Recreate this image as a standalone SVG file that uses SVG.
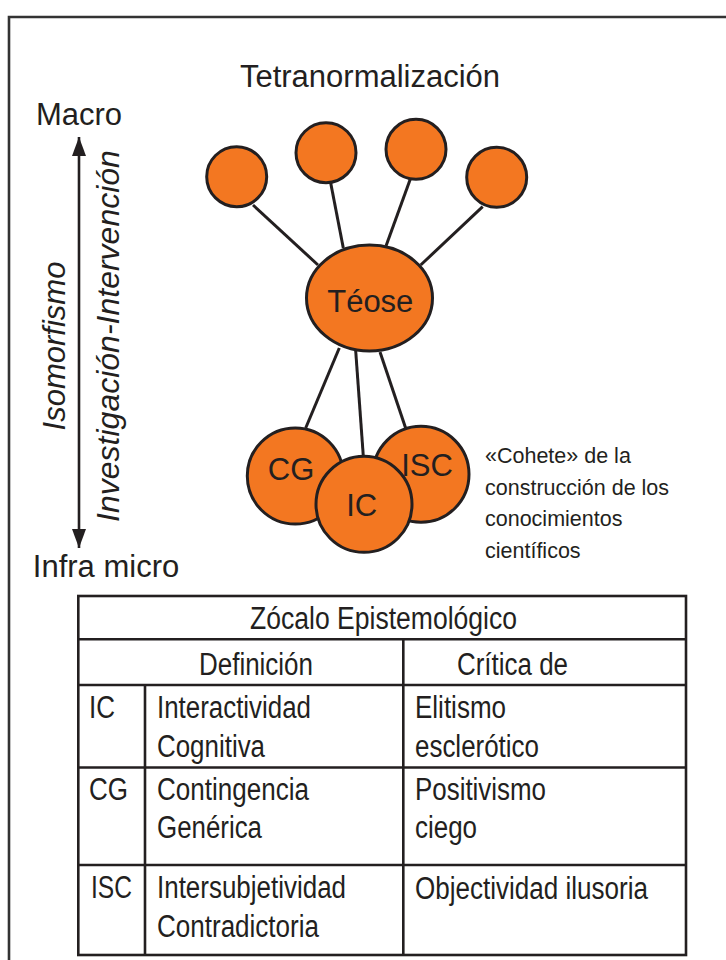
<svg xmlns="http://www.w3.org/2000/svg" width="726" height="960" viewBox="0 0 726 960">
<style>
.t{font-family:"Liberation Sans",Arial,sans-serif;fill:#231f20}
.big{font-size:31px}
.it{font-style:italic}
.cap{font-size:21.5px}
.tb{font-size:31px}
.node{fill:#f37721;stroke:#231f20;stroke-width:3}
.conn line{stroke:#231f20;stroke-width:3;stroke-linecap:butt}
.grid{stroke:#231f20;stroke-width:2.6;fill:none}
</style>
<defs>
<marker id="ah" viewBox="0 0 19 14" refX="19" refY="7" markerWidth="19" markerHeight="14" markerUnits="userSpaceOnUse" orient="auto-start-reverse">
<path d="M0,0 L19,7 L0,14 z" fill="#231f20"/>
</marker>
</defs>
<rect width="726" height="960" fill="#fff"/>
<path d="M9,960 V17 H726" fill="none" stroke="#333" stroke-width="2.6"/>

<text class="t big" x="370" y="87" text-anchor="middle">Tetranormalización</text>
<text class="t big" x="79" y="125" text-anchor="middle">Macro</text>
<text class="t big" x="106" y="577" text-anchor="middle">Infra micro</text>
<line x1="79" y1="548" x2="79" y2="137" stroke="#231f20" stroke-width="2.6" marker-start="url(#ah)" marker-end="url(#ah)"/>
<text class="t big it" transform="translate(65,346) rotate(-90)" text-anchor="middle" font-size="31.5">Isomorfismo</text>
<text class="t big it" transform="translate(118.5,336) rotate(-90)" text-anchor="middle" style="font-size:32px">Investigación-Intervención</text>

<g id="connectors" class="conn">
<line x1="253" y1="205" x2="318" y2="265"/>
<line x1="330.7" y1="183" x2="343.3" y2="248"/>
<line x1="410.7" y1="178" x2="386" y2="246"/>
<line x1="482.7" y1="206.7" x2="420.7" y2="265"/>
<line x1="339.3" y1="348" x2="305.7" y2="428"/>
<line x1="355.7" y1="351" x2="363.3" y2="456"/>
<line x1="380" y1="352" x2="405.7" y2="428.3"/>
</g>

<g id="n1"><circle class="node" cx="236.7" cy="176.7" r="30"/></g>
<g id="n2"><circle class="node" cx="326" cy="152.7" r="30"/></g>
<g id="n3"><circle class="node" cx="416" cy="149.3" r="30"/></g>
<g id="n4"><circle class="node" cx="496.7" cy="177.3" r="30"/></g>
<g id="teose"><ellipse class="node" cx="369.5" cy="298" rx="63" ry="53"/><text class="t big" x="370.3" y="311.7" text-anchor="middle">Téose</text></g>
<g id="cg"><circle class="node" cx="295.3" cy="476" r="48"/><text class="t big" x="291" y="480" text-anchor="middle">CG</text></g>
<g id="isc"><circle class="node" cx="421" cy="474.3" r="48"/><text class="t big" x="427" y="475.7" text-anchor="middle">ISC</text></g>
<g id="ic"><circle class="node" cx="364" cy="504.3" r="48"/><text class="t big" x="361.7" y="516" text-anchor="middle">IC</text></g>

<g id="caption">
<text class="t cap" x="485" y="463">«Cohete» de la</text>
<text class="t cap" x="485" y="495">construcción de los</text>
<text class="t cap" x="485" y="526">conocimientos</text>
<text class="t cap" x="485" y="558">científicos</text>
</g>

<g id="table">
<rect class="grid" x="78.3" y="596" width="607.7" height="359"/>
<line class="grid" x1="78.3" y1="639.3" x2="686" y2="639.3"/>
<line class="grid" x1="78.3" y1="685" x2="686" y2="685"/>
<line class="grid" x1="78.3" y1="767.5" x2="686" y2="767.5"/>
<line class="grid" x1="78.3" y1="865" x2="686" y2="865"/>
<line class="grid" x1="145" y1="685" x2="145" y2="955"/>
<line class="grid" x1="403.3" y1="639.3" x2="403.3" y2="955"/>
<g class="t tb">
<text x="250" y="629" textLength="267" lengthAdjust="spacingAndGlyphs">Zócalo Epistemológico</text>
<text x="199" y="675" textLength="114" lengthAdjust="spacingAndGlyphs">Definición</text>
<text x="457" y="675" textLength="111" lengthAdjust="spacingAndGlyphs">Crítica de</text>
<text x="89" y="718" textLength="26" lengthAdjust="spacingAndGlyphs">IC</text>
<text x="157" y="718" textLength="154" lengthAdjust="spacingAndGlyphs">Interactividad</text>
<text x="157" y="757" textLength="108" lengthAdjust="spacingAndGlyphs">Cognitiva</text>
<text x="415" y="718" textLength="91" lengthAdjust="spacingAndGlyphs">Elitismo</text>
<text x="415" y="757" textLength="124" lengthAdjust="spacingAndGlyphs">esclerótico</text>
<text x="89" y="800" textLength="39" lengthAdjust="spacingAndGlyphs">CG</text>
<text x="157" y="800" textLength="152" lengthAdjust="spacingAndGlyphs">Contingencia</text>
<text x="157" y="838" textLength="105" lengthAdjust="spacingAndGlyphs">Genérica</text>
<text x="415" y="800" textLength="131" lengthAdjust="spacingAndGlyphs">Positivismo</text>
<text x="415" y="838" textLength="62" lengthAdjust="spacingAndGlyphs">ciego</text>
<text x="91" y="898" textLength="41" lengthAdjust="spacingAndGlyphs">ISC</text>
<text x="157" y="898" textLength="189" lengthAdjust="spacingAndGlyphs">Intersubjetividad</text>
<text x="157" y="937" textLength="162" lengthAdjust="spacingAndGlyphs">Contradictoria</text>
<text x="415" y="899" textLength="233" lengthAdjust="spacingAndGlyphs">Objectividad ilusoria</text>
</g>
</g>
</svg>
